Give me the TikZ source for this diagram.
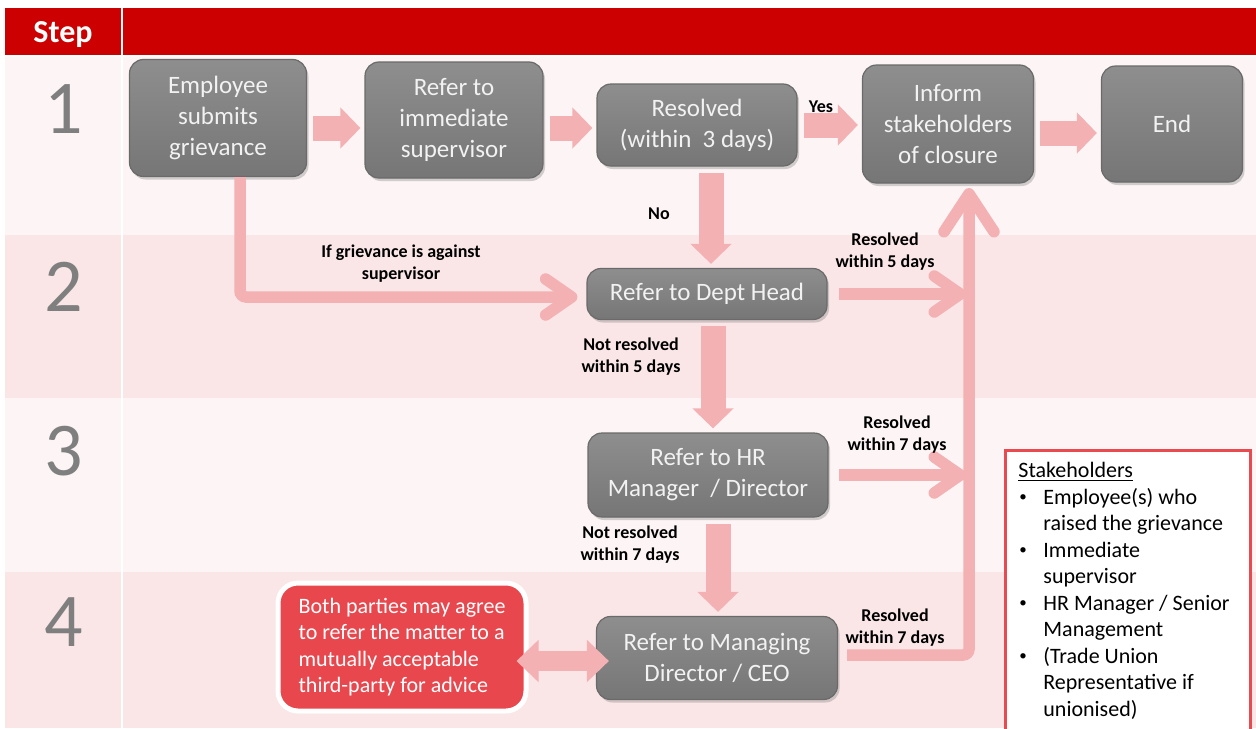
\documentclass[tikz,border=0pt]{standalone}
\usepackage{fontspec}
\setmainfont{Carlito}
\usepackage{xcolor}
\usepackage{tikz}
\usetikzlibrary{arrows.meta,shadows}

\definecolor{hdrred}{HTML}{CC0000}
\definecolor{rowA}{HTML}{FDF5F5}
\definecolor{rowB}{HTML}{FAE6E7}
\definecolor{arrpink}{HTML}{F4B1B3}
\definecolor{boxtop}{HTML}{8E8E8E}
\definecolor{boxbot}{HTML}{767676}
\definecolor{boxline}{HTML}{6A6A6A}
\definecolor{boxtext}{HTML}{F2F2F2}
\definecolor{numgrey}{HTML}{7F7F7F}
\definecolor{advred}{HTML}{E8474D}
\definecolor{stakered}{HTML}{E84A4F}

\newcommand{\blt}{\makebox[12.5pt][l]{\hspace{0.5pt}\raisebox{1.3pt}{\fontsize{7.5}{7.5}\selectfont\textbullet}}}
\newcommand{\ind}{\hspace*{12.5pt}}

\tikzset{
	greybox/.style={draw=boxline, line width=0.6pt, rounded corners=7pt, top color=boxtop, bottom color=boxbot, text=boxtext, align=center, inner sep=0pt, font=\fontsize{12.5}{15.5}\selectfont, drop shadow={shadow xshift=1pt, shadow yshift=-1.5pt, opacity=0.35}},
	blk/.style={draw=arrpink, line width=12.5pt, -{Triangle[length=10pt,width=20pt]}, shorten <=3pt, shorten >=2pt},
	lnk/.style={draw=arrpink, line width=5.75pt, rounded corners=3pt, -{Straight Barb[length=13pt,width=18pt,line cap=round,line join=round]}},
	biglnk/.style={lnk, -{Straight Barb[length=19pt,width=25pt,line cap=round,line join=round]}},
	lbl/.style={font=\bfseries\fontsize{9}{11}\selectfont, align=center}
}

\begin{document}
\begin{tikzpicture}[x=0.5pt, y=-0.5pt]
	\useasboundingbox (0,0) rectangle (1256,728);
	\fill[hdrred] (5,8) rectangle (1256,55);
	\node[text=white, font=\bfseries\fontsize{16}{18}\selectfont] (step) at (63,35) {Step};
	\foreach \n/\ya/\yb/\col/\yn in {1/57/235/rowA/109, 2/235/398/rowB/287, 3/398/572/rowA/451, 4/572/728/rowB/622} {
		\fill[\col] (5,\ya) rectangle (1256,\yb);
		\node[text=numgrey, font=\fontsize{38}{40}\selectfont] (n\n) at (64,\yn) {\n};
	}
	\draw[white, line width=1pt] (122,8) -- (122,728);

	\node[greybox, minimum width=88.5pt, minimum height=58.5pt] (emp) at (218,118) {Employee\\submits\\grievance};
	\node[greybox, minimum width=89pt, minimum height=58pt] (sup) at (454,120) {Refer to\\immediate\\supervisor};
	\node[greybox, minimum width=100pt, minimum height=41pt] (res) at (697,125) {Resolved\\(within\ \ 3 days)};
	\node[greybox, minimum width=85.5pt, minimum height=59pt] (inf) at (948,124) {Inform\\stakeholders\\of closure};
	\node[greybox, minimum width=70.5pt, minimum height=58pt] (fin) at (1172,124) {End};
	\node[greybox, minimum width=120pt, minimum height=25.5pt] (dept) at (707,294) {Refer to Dept Head};
	\node[greybox, minimum width=120pt, minimum height=42pt] (hrm) at (708,475) {Refer to HR\\Manager\ \ / Director};
	\node[greybox, minimum width=120.5pt, minimum height=41.5pt] (ceo) at (717,658) {Refer to Managing\\Director / CEO};
	\node[draw=white, line width=2.5pt, fill=advred, rounded corners=10pt, text=white, align=left, inner sep=0pt, minimum width=124pt, minimum height=64pt, font=\fontsize{11}{13.2}\selectfont, drop shadow={shadow xshift=0.5pt, shadow yshift=-1pt, opacity=0.3}] (third) at (402,647) {Both parties may agree\\to refer the matter to a\\mutually acceptable\\third-party for advice};

	\fill[white] (1005,450) rectangle (1250,728);
	\draw[stakered, line width=1.5pt] (1005,730) |- (1250,450) -- (1250,730);
	\node[anchor=north west, align=left, inner sep=0pt, font=\fontsize{11}{13.25}\selectfont] (stk) at (1018,462) {\underline{Stakeholders}\\
		\blt Employee(s) who\\ \ind raised the grievance\\
		\blt Immediate\\ \ind supervisor\\
		\blt HR Manager / Senior\\ \ind Management\\
		\blt (Trade Union\\ \ind Representative if\\ \ind unionised)};

	\draw[blk] ([yshift=-5pt]emp.east) -- ([yshift=-4pt]sup.west);
	\draw[blk] ([yshift=-4pt]sup.east) -- ([yshift=-1.5pt]res.west);
	\draw[blk] (res.east) -- ([yshift=-0.5pt]inf.west);
	\draw[blk] ([yshift=-4.5pt]inf.east) -- ([yshift=-4.5pt]fin.west);
	\draw[blk] ([xshift=7pt]res.south) -- ([xshift=2pt]dept.north);
	\draw[blk] ([xshift=3pt]dept.south) -- ([xshift=2.5pt]hrm.north);
	\draw[blk] ([xshift=5pt]hrm.south) -- ([xshift=0.5pt]ceo.north);
	\draw[draw=arrpink, line width=10pt, {Triangle[length=11pt,width=20.5pt]}-{Triangle[length=11pt,width=20.5pt]}, shorten <=-6pt, shorten >=-6.5pt] ([yshift=-7pt]third.east) -- ([yshift=-1.5pt]ceo.west);

	\coordinate (up) at (969,188);
	\draw[lnk] ([xshift=11pt]emp.south) |- ([xshift=-4.5pt, yshift=-1.5pt]dept.west);
	\draw[lnk, shorten >=1.5pt] ([xshift=5.5pt]dept.east) -- (dept.east -| up);
	\draw[lnk, shorten >=1.5pt] ([xshift=5pt]hrm.east) -- (hrm.east -| up);
	\draw[biglnk] ([xshift=4.5pt, yshift=1.5pt]ceo.east) -| (up);

	\node[lbl] (yes) at (821,107) {Yes};
	\node[lbl] (no) at (659,214) {No};
	\node[lbl] (agst) at (401,264) {If grievance is against\\supervisor};
	\node[lbl] (r5) at (885,252) {Resolved\\within 5 days};
	\node[lbl] (nr5) at (631,357) {Not resolved\\within 5 days};
	\node[lbl] (r7a) at (897,435) {Resolved\\within 7 days};
	\node[lbl] (nr7) at (630,545) {Not resolved\\within 7 days};
	\node[lbl] (r7b) at (895,628) {Resolved\\within 7 days};
\end{tikzpicture}
\end{document}
